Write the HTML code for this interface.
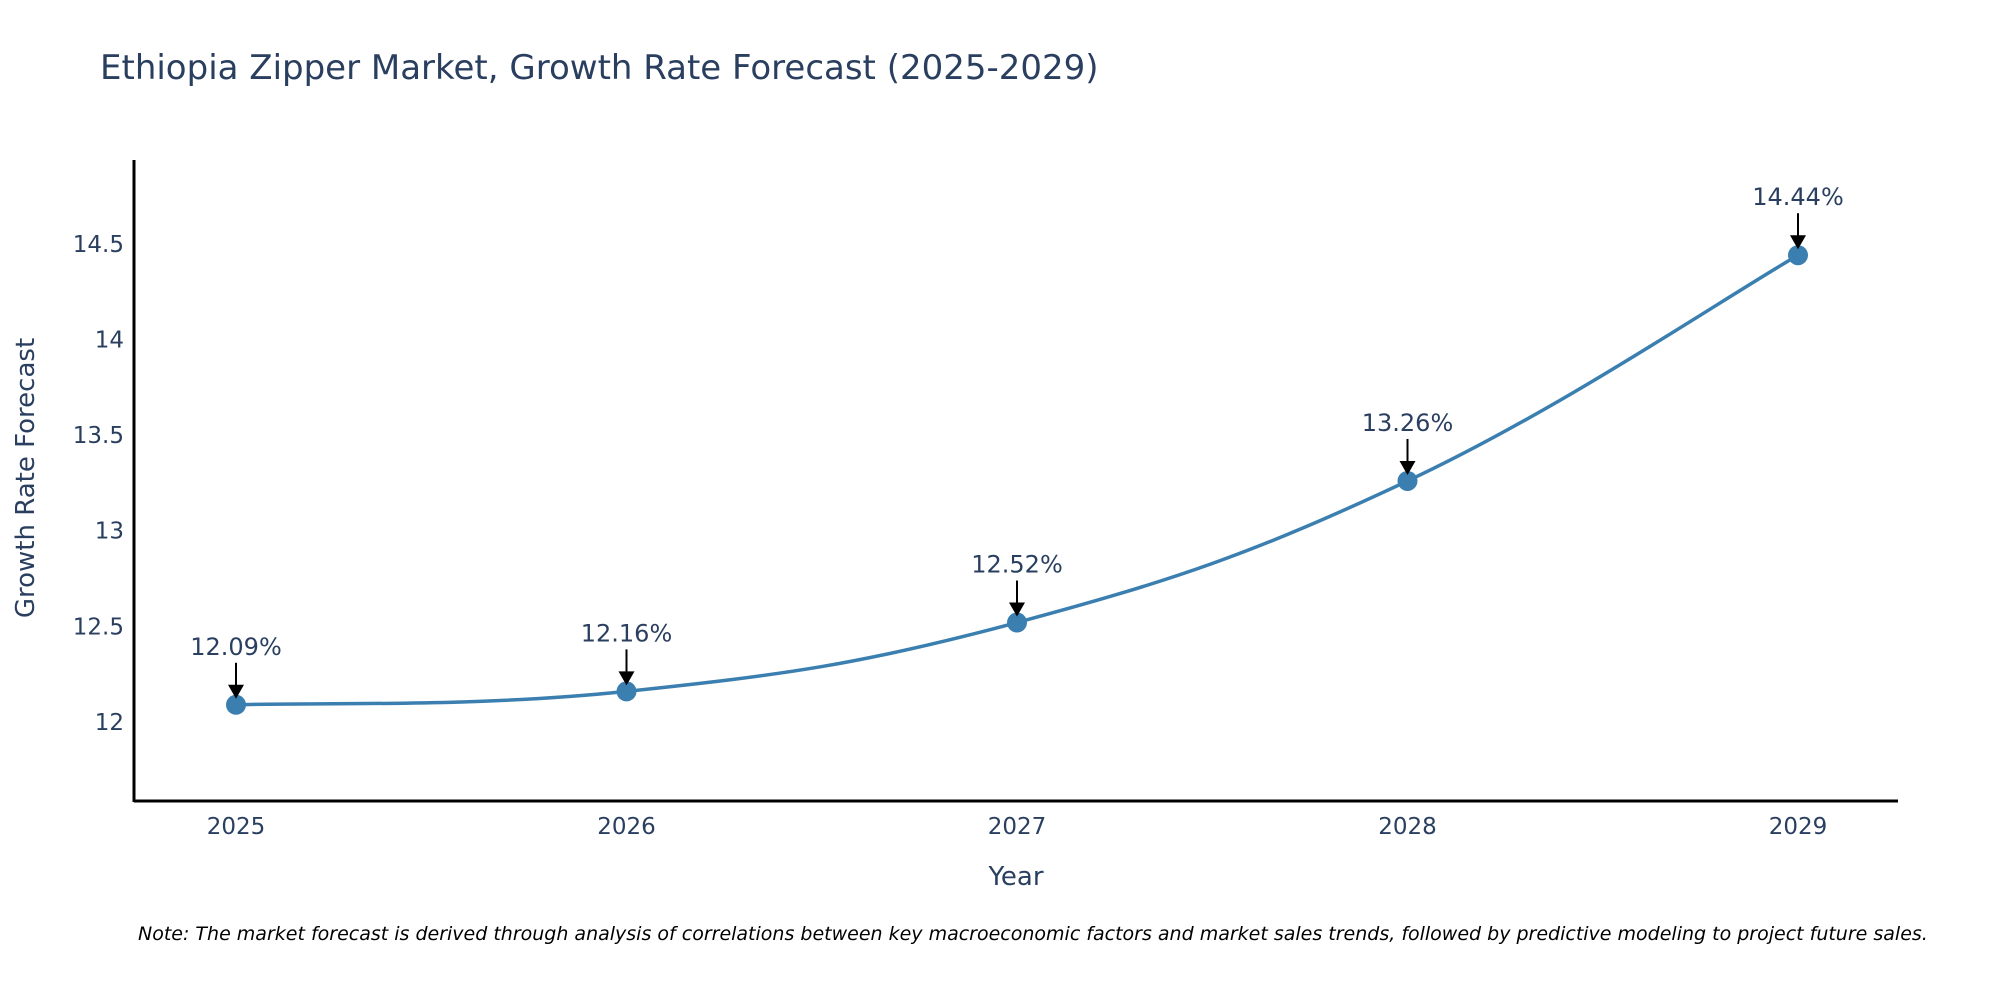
<!DOCTYPE html>
<html><head><meta charset="utf-8"><style>
body{margin:0;background:#fff;}
svg text{font-family:"DejaVu Sans","Liberation Sans",sans-serif;fill:#2a3f5f;}
</style></head><body>
<svg width="2000" height="1000" viewBox="0 0 2000 1000">
<text x="100" y="79" font-size="34">Ethiopia Zipper Market, Growth Rate Forecast (2025-2029)</text>
<g id="plot"></g>
<text x="1016" y="885" font-size="26" text-anchor="middle">Year</text>
<text x="34" y="478" font-size="26" text-anchor="middle" transform="rotate(-90 34 478)">Growth Rate Forecast</text>
<text x="138" y="940" font-size="19" font-style="italic" style="fill:#000">Note: The market forecast is derived through analysis of correlations between key macroeconomic factors and market sales trends, followed by predictive modeling to project future sales.</text>
</svg>
<script>
const years=[2025,2026,2027,2028,2029];
const values=[12.09,12.16,12.52,13.26,14.44];
const labels=["12.09%","12.16%","12.52%","13.26%","14.44%"];
const yTicks=[12,12.5,13,13.5,14,14.5];
const yTickLabels=["12","12.5","13","13.5","14","14.5"];
const NS="http://www.w3.org/2000/svg";
const g=document.getElementById('plot');
const X=v=>236+(v-2025)*390.5;
const Y=v=>722-(v-12)*191.3;
function mk(t,a,p){const e=document.createElementNS(NS,t);for(const k in a)e.setAttribute(k,a[k]);(p||g).appendChild(e);return e;}
let ax=mk('line',{x1:134,y1:801,x2:1898,y2:801,stroke:'#000','stroke-width':3});


let ay=mk('line',{x1:134,y1:160,x2:134,y2:802,stroke:'#000','stroke-width':3});


yTicks.forEach((t,i)=>{const e=mk('text',{x:124,y:Y(t)+8,'font-size':23,'text-anchor':'end'});e.textContent=yTickLabels[i];

});
years.forEach(yr=>{const e=mk('text',{x:X(yr),y:834,'font-size':23,'text-anchor':'middle'});e.textContent=String(yr);

});
const pts=years.map((y,i)=>[X(y),Y(values[i])]);
let d=`M${pts[0][0]},${pts[0][1]}`;const s=0.2;
for(let i=0;i<pts.length-1;i++){const p0=pts[Math.max(0,i-1)],p1=pts[i],p2=pts[i+1],p3=pts[Math.min(pts.length-1,i+2)];
d+=` C${p1[0]+(p2[0]-p0[0])*s},${p1[1]+(p2[1]-p0[1])*s} ${p2[0]-(p3[0]-p1[0])*s},${p2[1]-(p3[1]-p1[1])*s} ${p2[0]},${p2[1]}`;}
const line=mk('path',{d:d,fill:'none',stroke:'#3a7fb0','stroke-width':3.5});


pts.forEach((p,i)=>{
const c=mk('circle',{cx:p[0],cy:p[1],r:10,fill:'#3a7fb0'});


const l=mk('line',{x1:p[0],y1:p[1]-42,x2:p[0],y2:p[1]-18,stroke:'#000','stroke-width':2});


const h=mk('path',{d:`M${p[0]-8},${p[1]-20} L${p[0]+8},${p[1]-20} L${p[0]},${p[1]-6} Z`,fill:'#000'});


const t=mk('text',{x:p[0],y:p[1]-50,'font-size':24,'text-anchor':'middle'});t.textContent=labels[i];


});
</script>
</body></html>
